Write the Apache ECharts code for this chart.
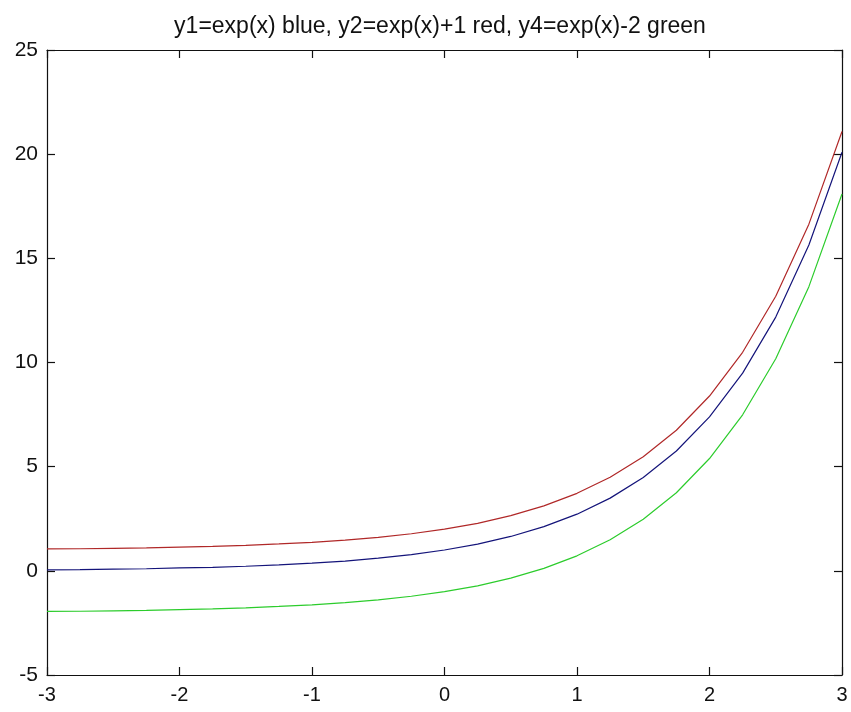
<!DOCTYPE html>
<html>
<head>
<meta charset="utf-8">
<script src="https://cdn.jsdelivr.net/npm/echarts@6/dist/echarts.min.js"></script>
<style>
  html, body { margin: 0; padding: 0; background: #fff; }
  #chart { width: 851px; height: 712px; }
</style>
</head>
<body>
<div id="chart"></div>
<script>
// x samples and the three curves
var xs = [-3, -2.75, -2.5, -2.25, -2, -1.75, -1.5, -1.25, -1, -0.75, -0.5, -0.25, 0,
          0.25, 0.5, 0.75, 1, 1.25, 1.5, 1.75, 2, 2.25, 2.5, 2.75, 3];
var blueVals = [0.05, 0.06, 0.08, 0.1, 0.14, 0.17, 0.22, 0.29, 0.37, 0.47, 0.61, 0.78, 1.0,
                1.28, 1.65, 2.12, 2.72, 3.49, 4.48, 5.75, 7.39, 9.49, 12.18, 15.64, 20.09];
var redVals = [1.05, 1.06, 1.08, 1.1, 1.14, 1.17, 1.22, 1.29, 1.37, 1.47, 1.61, 1.78, 2.0,
               2.28, 2.65, 3.12, 3.72, 4.49, 5.48, 6.75, 8.39, 10.49, 13.18, 16.64, 21.09];
var greenVals = [-1.95, -1.94, -1.92, -1.9, -1.86, -1.83, -1.78, -1.71, -1.63, -1.53, -1.39, -1.22, -1.0,
                 -0.72, -0.35, 0.12, 0.72, 1.49, 2.48, 3.75, 5.39, 7.49, 10.18, 13.64, 18.09];

function pairs(ys) {
  return xs.map(function (x, i) { return [x, ys[i]]; });
}

var chart = echarts.init(document.getElementById('chart'));

var font = 'Liberation Sans, Arial, sans-serif';
var axLine = { show: true, onZero: false, lineStyle: { color: '#111', width: 1.2 } };
var tick = { show: true, inside: true, length: 8, lineStyle: { color: '#111', width: 1.2 } };

var option = {
  backgroundColor: '#fff',
  animation: false,
  title: {
    text: 'y1=exp(x) blue, y2=exp(x)+1 red, y4=exp(x)-2 green',
    left: 435, textAlign: 'center', top: 10,
    textStyle: { fontFamily: font, fontSize: 23, fontWeight: 'normal', color: '#111' }
  },
  grid: { left: 47, right: 9, top: 50, bottom: 37 },
  xAxis: [
    {
      type: 'value', min: -3, max: 3, interval: 1, position: 'bottom',
      axisLine: axLine, axisTick: tick, splitLine: { show: false },
      axisLabel: { color: '#111', fontFamily: font, fontSize: 20, margin: 10 }
    },
    {
      type: 'value', min: -3, max: 3, interval: 1, position: 'top',
      axisLine: axLine, axisTick: tick, splitLine: { show: false },
      axisLabel: { show: false }
    }
  ],
  yAxis: [
    {
      type: 'value', min: -5, max: 25, interval: 5, position: 'left',
      axisLine: axLine, axisTick: tick, splitLine: { show: false },
      axisLabel: { color: '#111', fontFamily: font, fontSize: 21, margin: 9 }
    },
    {
      type: 'value', min: -5, max: 25, interval: 5, position: 'right',
      axisLine: axLine, axisTick: tick, splitLine: { show: false },
      axisLabel: { show: false }
    }
  ],
  series: [
    { type: 'line', data: pairs(redVals), symbol: 'none', lineStyle: { color: '#b02828', width: 1.2 } },
    { type: 'line', data: pairs(blueVals), symbol: 'none', lineStyle: { color: '#14147a', width: 1.2 } },
    { type: 'line', data: pairs(greenVals), symbol: 'none', lineStyle: { color: '#2ccc2c', width: 1.2 } }
  ]
};

chart.setOption(option);
</script>
</body>
</html>
